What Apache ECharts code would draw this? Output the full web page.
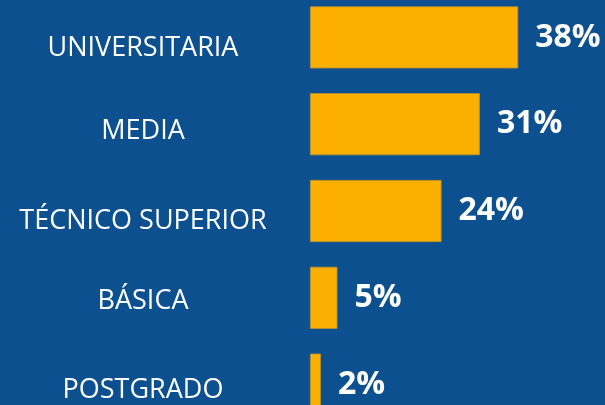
<!DOCTYPE html>
<html>
<head>
<meta charset="utf-8">
<script src="https://cdn.jsdelivr.net/npm/echarts@6/dist/echarts.min.js"></script>
<style>
  html, body { margin: 0; padding: 0; background: #0d508f; }
  #chart { width: 605px; height: 405px; }
</style>
</head>
<body>
<div id="chart"></div>
<script>
// datos (nivel educacional, %)
var categorias = ['UNIVERSITARIA', 'MEDIA', 'TÉCNICO SUPERIOR', 'BÁSICA', 'POSTGRADO'];
var porcentajes = [38, 31, 24, 5, 2];

// las etiquetas de la izquierda no quedan todas a la misma altura
var desplazamiento = [10.5, 7.5, 10.5, 3.5, 5.5];

var chart = echarts.init(document.getElementById('chart'), null, { renderer: 'canvas' });

var rich = {};
desplazamiento.forEach(function (d, i) {
  rich['n' + i] = {
    color: '#ffffff',
    fontFamily: 'Open Sans',
    fontSize: 27,
    align: 'center',
    padding: [d * 2, 0, 0, 0]
  };
});

var option = {
  backgroundColor: '#0d508f',
  animation: false,
  grid: {
    left: 310,
    right: 21,
    top: -6,
    bottom: -23,
    containLabel: false,
    outerBoundsMode: 'none'
  },
  xAxis: {
    type: 'value',
    min: 0,
    max: 50,
    show: false
  },
  yAxis: {
    type: 'category',
    inverse: true,
    data: categorias,
    axisLine: { show: false },
    axisTick: { show: false },
    splitLine: { show: false },
    axisLabel: {
      align: 'center',
      margin: 167,
      color: '#ffffff',
      fontFamily: 'Open Sans',
      fontSize: 27,
      formatter: function (v, i) {
        return '{n' + i + '|' + v + '}';
      },
      rich: rich
    }
  },
  series: [{
    type: 'bar',
    data: porcentajes,
    barCategoryGap: '28.5%',
    itemStyle: {
      color: '#fbaf00',
      borderColor: '#b98f2e',
      borderWidth: 0.8
    },
    label: {
      show: true,
      position: 'right',
      distance: 17,
      formatter: '{c}%',
      color: '#ffffff',
      fontFamily: 'Open Sans',
      fontWeight: 'bold',
      fontSize: 32
    }
  }]
};

chart.setOption(option);
</script>
</body>
</html>
